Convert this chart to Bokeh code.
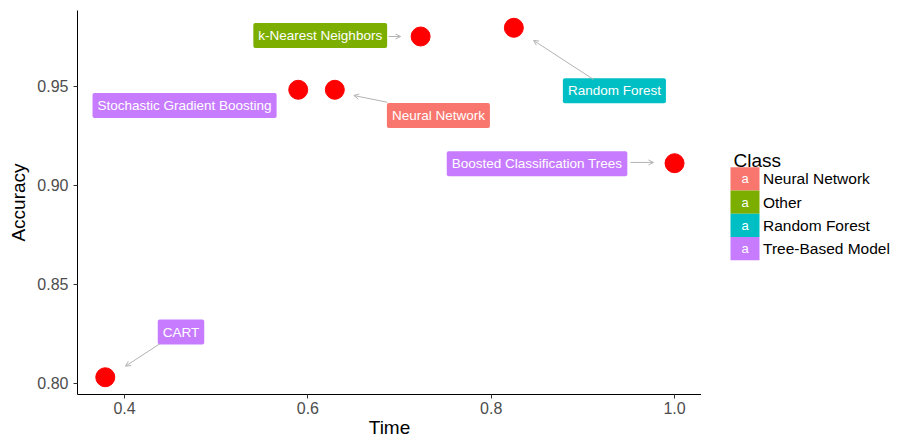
from bokeh.plotting import figure
from bokeh.models import (ColumnDataSource, Range1d, FixedTicker, Arrow, OpenHead)
from bokeh.layouts import row
from bokeh.core.properties import value
from bokeh.embed import file_html
from bokeh.resources import INLINE

# ---- data ----
models = ["CART", "Stochastic Gradient Boosting", "Neural Network",
          "k-Nearest Neighbors", "Random Forest", "Boosted Classification Trees"]
time_vals = [0.379, 0.5895, 0.6294, 0.723, 0.8247, 1.0]
accuracy = [0.803, 0.9482, 0.9482, 0.9751, 0.9795, 0.9111]
model_class = ["Tree-Based Model", "Tree-Based Model", "Neural Network",
               "Other", "Random Forest", "Tree-Based Model"]

classes = ["Neural Network", "Other", "Random Forest", "Tree-Based Model"]
palette = ["#F8766D", "#7CAE00", "#00BFC4", "#C77CFF"]

x_ticks = [0.4, 0.6, 0.8, 1.0]
x_tick_labels = ["0.4", "0.6", "0.8", "1.0"]
y_ticks = [0.80, 0.85, 0.90, 0.95]
y_tick_labels = ["0.80", "0.85", "0.90", "0.95"]

# ---- label layout (repelled label positions and connector segments) ----
label_x = [0.4616, 0.4655, 0.7424, 0.6135, 0.9344, 0.850]
label_y = [0.8258, 0.9403, 0.9352, 0.9756, 0.9477, 0.9108]
seg_x0 = [0.4385, None, 0.6866, 0.688, 0.9116, 0.952]
seg_y0 = [0.8199, None, 0.9419, 0.9751, 0.9534, 0.9115]
seg_x1 = [0.4011, None, 0.6501, 0.7011, 0.8462, 0.977]
seg_y1 = [0.8086, None, 0.9453, 0.9751, 0.9731, 0.9115]

FONT = "Liberation Sans"
cmap = dict(zip(classes, palette))

X0, X1 = 0.3487, 1.0294
Y0, Y1 = 0.79429, 0.98823

src = ColumnDataSource(dict(
    x=time_vals, y=accuracy, name=models,
    lx=label_x, ly=label_y,
    col=[cmap[c] for c in model_class],
))

p = figure(width=701, height=440, output_backend="svg", toolbar_location=None,
           x_range=Range1d(X0, X1), y_range=Range1d(Y0, Y1),
           min_border_left=77, min_border_right=0, min_border_top=10,
           min_border_bottom=46)
p.outline_line_color = None
p.xgrid.visible = False
p.ygrid.visible = False
p.background_fill_color = "white"

for ax in (p.xaxis[0], p.yaxis[0]):
    ax.axis_line_color = "black"
    ax.axis_line_width = 1
    ax.major_tick_line_color = "#333333"
    ax.major_tick_out = 4
    ax.major_tick_in = 0
    ax.minor_tick_line_color = None
    ax.major_label_text_color = "#4D4D4D"
    ax.major_label_text_font = FONT
    ax.major_label_text_font_size = "16px"
    ax.axis_label_text_font = FONT
    ax.axis_label_text_font_size = "19px"
    ax.axis_label_text_font_style = "normal"
    ax.axis_label_text_color = "black"

p.xaxis.axis_label = "Time"
p.xaxis.major_label_standoff = 3
p.xaxis.axis_label_standoff = 0
p.yaxis.major_label_standoff = 5
p.yaxis.axis_label = "Accuracy"
p.yaxis.axis_label_standoff = 5
p.xaxis.ticker = FixedTicker(ticks=x_ticks)
p.yaxis.ticker = FixedTicker(ticks=y_ticks)
p.xaxis.major_label_overrides = dict(zip(x_ticks, x_tick_labels))
p.yaxis.major_label_overrides = dict(zip(y_ticks, y_tick_labels))

# connector arrows
segs = [(a, b, c, d) for a, b, c, d in zip(seg_x0, seg_y0, seg_x1, seg_y1) if a is not None]
arr_src = ColumnDataSource(dict(x0=[s[0] for s in segs], y0=[s[1] for s in segs],
                                x1=[s[2] for s in segs], y1=[s[3] for s in segs]))
p.add_layout(Arrow(end=OpenHead(size=5, line_color="#B3B3B3", line_width=1),
                   x_start="x0", y_start="y0", x_end="x1", y_end="y1",
                   source=arr_src, line_color="#B3B3B3", line_width=1))

p.scatter("x", "y", source=src, size=19, fill_color="#FF0000", line_color="#FF0000")

p.text("lx", "ly", text="name", source=src, text_color="white",
       text_font=value(FONT), text_font_size="13.5px",
       text_align="center", text_baseline="middle",
       background_fill_color="col", padding=5, border_radius=2)

# ---- legend panel (data units == pixels) ----
leg = figure(width=190, height=440, output_backend="svg", toolbar_location=None,
             x_range=Range1d(0, 190), y_range=Range1d(394, 10),
             min_border_left=0, min_border_right=0, min_border_top=10,
             min_border_bottom=46)
leg.axis.visible = False
leg.grid.visible = False
leg.outline_line_color = None

row_h = 23.3
ky = [178.3 + i * row_h for i in range(len(classes))]
lsrc = ColumnDataSource(dict(x=[43.5] * len(classes), y=ky, col=palette,
                             lab=classes, a=["a"] * len(classes),
                             tx=[61.5] * len(classes)))
leg.rect("x", "y", width=29, height=row_h, source=lsrc, fill_color="col", line_color=None)
leg.text("x", "y", text="a", source=lsrc, text_color="white", text_font=value(FONT),
         text_font_size="13px", text_align="center", text_baseline="middle")
leg.text("tx", "y", text="lab", source=lsrc, text_color="black", text_font=value(FONT),
         text_font_size="15.5px", text_align="left", text_baseline="middle")
leg.text(x=[32], y=[160], text=["Class"], text_color="black", text_font=value(FONT),
         text_font_size="19px", text_align="left", text_baseline="alphabetic")

layout = row(p, leg)
open("out.html", "w").write(file_html(layout, INLINE))
